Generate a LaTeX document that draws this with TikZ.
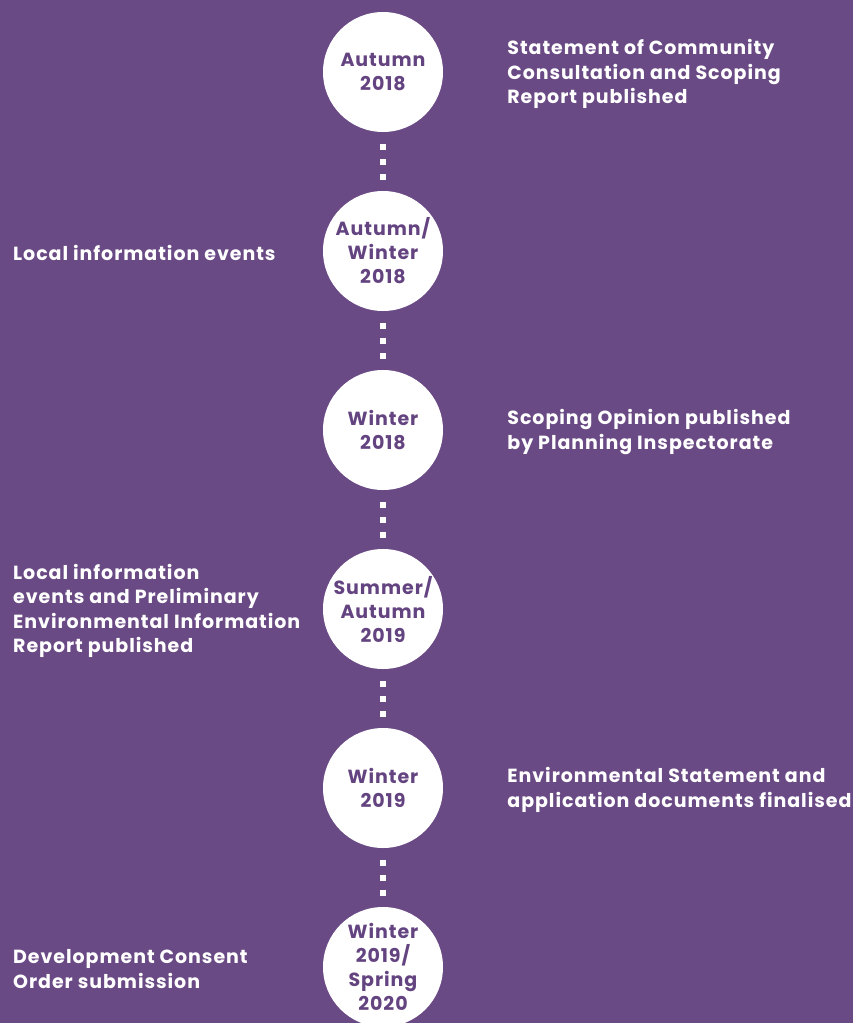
\documentclass[tikz,border=0pt]{standalone}
\usepackage{fontspec}
\setmainfont{Poppins}[LetterSpace=5]
\usepackage{tikz}
\usetikzlibrary{positioning}

\definecolor{bgpurple}{RGB}{106,74,133}
\definecolor{txtpurple}{RGB}{100,68,128}

\begin{document}
\begin{tikzpicture}[x=1pt, y=-1pt,
    stage/.style={circle, fill=white, minimum size=120pt, inner sep=0pt, align=center,
        text=txtpurple, font=\bfseries\fontsize{19}{24}\selectfont},
    lab/.style={text=white, align=left, inner sep=0pt, yshift=-2pt, font=\bfseries\fontsize{19}{24.5}\selectfont},
    dots/.style={white, line width=6pt, dash pattern=on 6pt off 9pt, shorten <=12pt, shorten >=11pt}]
\clip (0,0) rectangle (853,1023);
\fill[bgpurple] (0,0) rectangle (853,1023);
\coordinate (leftedge) at (13,0);
% timeline circles
\foreach \i/\when in {1/{Autumn\\2018}, 2/{Autumn/\\Winter\\2018}, 3/{Winter\\2018},
    4/{Summer/\\Autumn\\2019}, 5/{Winter\\2019}, 6/{Winter\\2019/\\Spring\\2020}} {
    \node[stage] (c\i) at (383, {72+179*(\i-1)}) {\when};
}
\foreach \i [evaluate=\i as \j using int(\i+1)] in {1,...,5} {
    \draw[dots] (c\i.south) -- (c\j.north);
}
% labels on the right
\node[lab, anchor=west, right=64pt of c1] (r1) {Statement of Community\\Consultation and Scoping\\Report published};
\node[lab, anchor=west, right=64pt of c3] (r3) {Scoping Opinion published\\by Planning Inspectorate};
\node[lab, anchor=west, right=64pt of c5] (r5) {Environmental Statement and\\application documents finalised};
% labels on the left
\node[lab, anchor=west] (l2) at (leftedge |- c2) {Local information events};
\node[lab, anchor=west] (l4) at (leftedge |- c4) {Local information\\events and Preliminary\\Environmental Information\\Report published};
\node[lab, anchor=west] (l6) at (leftedge |- c6) {Development Consent\\Order submission};
\end{tikzpicture}
\end{document}
